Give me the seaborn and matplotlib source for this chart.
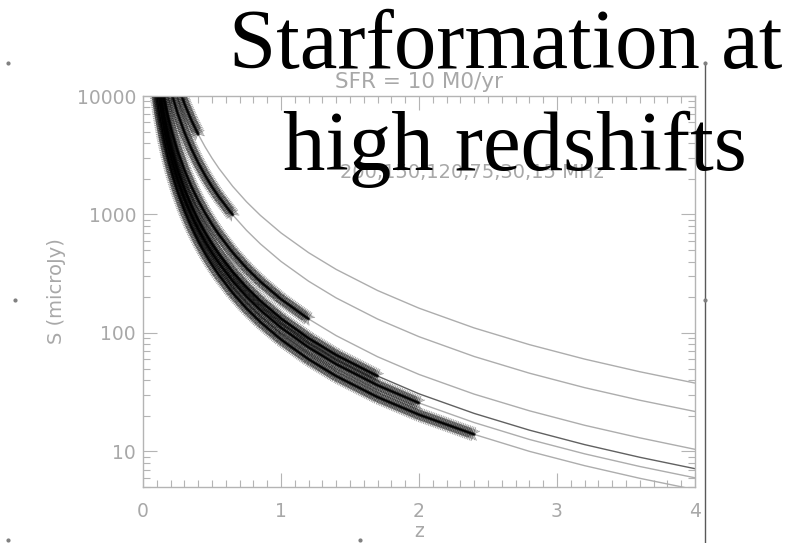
import numpy as np
import matplotlib
matplotlib.use("Agg")
import matplotlib.pyplot as plt
import matplotlib.patheffects as pe
from matplotlib.lines import Line2D
from matplotlib.ticker import MultipleLocator, NullFormatter
import seaborn as sns
import pandas as pd

# redshift grid
z = [0.08, 0.1, 0.12, 0.15, 0.18, 0.21, 0.25, 0.3, 0.35, 0.4, 0.45, 0.5, 0.55,
     0.65, 0.75, 0.85, 1.0, 1.2, 1.4, 1.7, 2.0, 2.4, 2.8, 3.2, 3.6, 4.0]

# flux in microJy for each frequency
s_15 = [127500, 81170, 56080, 35620, 24560, 17920, 12530, 8610, 6263, 4750, 3720, 2987, 2449,
        1727, 1279, 983.6, 698.6, 475.6, 343.5, 227.9, 161.7, 110.1, 79.6, 60.1, 47.0, 37.7]
s_30 = [73220, 46620, 32210, 20460, 14100, 10290, 7196, 4945, 3597, 2728, 2136, 1715, 1406,
        991.8, 734.5, 564.9, 401.2, 273.1, 197.3, 130.9, 92.9, 63.2, 45.7, 34.5, 27.0, 21.7]
s_75 = [35180, 22390, 15470, 9828, 6776, 4944, 3457, 2375, 1728, 1311, 1026, 824.1, 675.7,
        476.5, 352.9, 271.4, 192.7, 131.2, 94.8, 62.9, 44.6, 30.4, 22.0, 16.6, 13.0, 10.4]
s_120 = [24160, 15380, 10630, 6750, 4654, 3396, 2374, 1632, 1187, 900.1, 704.9, 566.0, 464.1,
         327.3, 242.4, 186.4, 132.4, 90.1, 65.1, 43.2, 30.6, 20.9, 15.1, 11.4, 8.91, 7.14]
s_150 = [20210, 12870, 8889, 5646, 3893, 2840, 1986, 1365, 992.7, 752.9, 589.6, 473.4, 388.2,
         273.7, 202.7, 155.9, 110.7, 75.4, 54.4, 36.1, 25.6, 17.5, 12.6, 9.53, 7.45, 5.98]
s_200 = [16050, 10220, 7060, 4485, 3092, 2256, 1578, 1084, 788.5, 598.0, 468.3, 376.1, 308.3,
         217.4, 161.0, 123.8, 87.95, 59.9, 43.2, 28.7, 20.4, 13.9, 10.0, 7.57, 5.92, 4.75]

freqs = [15, 30, 75, 120, 150, 200]
fluxes = [s_15, s_30, s_75, s_120, s_150, s_200]
# starred part of each curve ends here
star_zmax = [0.4, 0.65, 1.2, 1.7, 2.0, 2.4]

yticks = [10, 100, 1000, 10000]
ytick_labels = ['10', '100', '1000', '10000']

df = pd.concat([pd.DataFrame({'z': z, 'S': s, 'freq': f}) for f, s in zip(freqs, fluxes)])

axis_grey = '#b4b4b4'
label_grey = '#a8a8a8'
line_cols = {15: '0.68', 30: '0.68', 75: '0.68', 120: '0.38', 150: '0.68', 200: '0.68'}

sns.set_theme(style="white")
plt.rcParams['font.family'] = ['DejaVu Sans']

fig = plt.figure(figsize=(8.03, 5.43), dpi=100)
ax = fig.add_axes([143/803, 56/543, 552/803, 391/543])

# asterisk-like texture for the starred parts (dense overlapping stars)
star_fx = [pe.TickedStroke(spacing=1.3, angle=a, length=3.8, linewidth=0.7,
                           foreground='black', alpha=0.38)
           for a in (45, 225, 135, 315, 90, 270)]
star_fx += [pe.Stroke(linewidth=2.4, foreground='black', alpha=0.6), pe.Normal()]

for f, zmax in zip(freqs, star_zmax):
    d = df[df.freq == f]
    sns.lineplot(data=d, x='z', y='S', color=line_cols[f], lw=1.0,
                 estimator=None, ax=ax, legend=False)
    ds = d[d.z <= zmax]
    sns.lineplot(data=ds, x='z', y='S', color='black', lw=1.0,
                 estimator=None, ax=ax, legend=False, path_effects=star_fx)

ax.set_yscale('log')
ax.set(xlim=(0, 4), ylim=(5, 10000), xlabel='', ylabel='')
ax.set_xticks([0, 1, 2, 3, 4])
ax.set_xticklabels(['0', '1', '2', '3', '4'])
ax.set_yticks(yticks)
ax.set_yticklabels(ytick_labels)
ax.xaxis.set_minor_locator(MultipleLocator(0.1))
ax.yaxis.set_minor_formatter(NullFormatter())

for sp in ax.spines.values():
    sp.set_color(axis_grey)
    sp.set_linewidth(1.0)

ax.tick_params(which='both', direction='in', bottom=True, left=True, top=True, right=True,
               color=axis_grey, labelcolor=label_grey)
ax.tick_params(which='major', length=10, width=0.8, labelsize=13.5)
ax.tick_params(which='minor', length=5, width=0.8)
ax.tick_params(axis='x', which='major', pad=11)
ax.tick_params(axis='y', which='major', pad=5)

ax.set_ylabel('S (microJy)', color=label_grey, fontsize=14, va='center')
ax.yaxis.set_label_coords(-0.156, 0.5)
ax.set_xlabel('z', color=label_grey, fontsize=13.5, va='center')
ax.xaxis.set_label_coords(0.5, -0.115)
ax.set_title('SFR = 10 M0/yr', color=label_grey, fontsize=15.5, pad=6)
ax.text(1.43, 2240, '200,150,120,75,30,15 MHz', color=label_grey, fontsize=14, va='center')

# slide title on top of the picture
fig.text(506/803, 1 - 68/543, 'Starformation at', family='Liberation Serif',
         fontsize=61, ha='center', va='baseline', color='black')
fig.text(515/803, 1 - 170/543, 'high redshifts', family='Liberation Serif',
         fontsize=61, ha='center', va='baseline', color='black')

# picture frame edge and handles
fig.add_artist(Line2D([705/803, 705/803], [0, 1 - 62/543], color='0.35', lw=1.0))
hx = [8/803, 15/803, 705/803, 705/803, 8/803, 360/803]
hy = [1 - 63/543, 1 - 300/543, 1 - 63/543, 1 - 300/543, 1 - 540/543, 1 - 540/543]
fig.add_artist(Line2D(hx, hy, ls='', marker='o', ms=2.0, color='0.5'))

fig.savefig('out.png', dpi=100)
plt.close()
